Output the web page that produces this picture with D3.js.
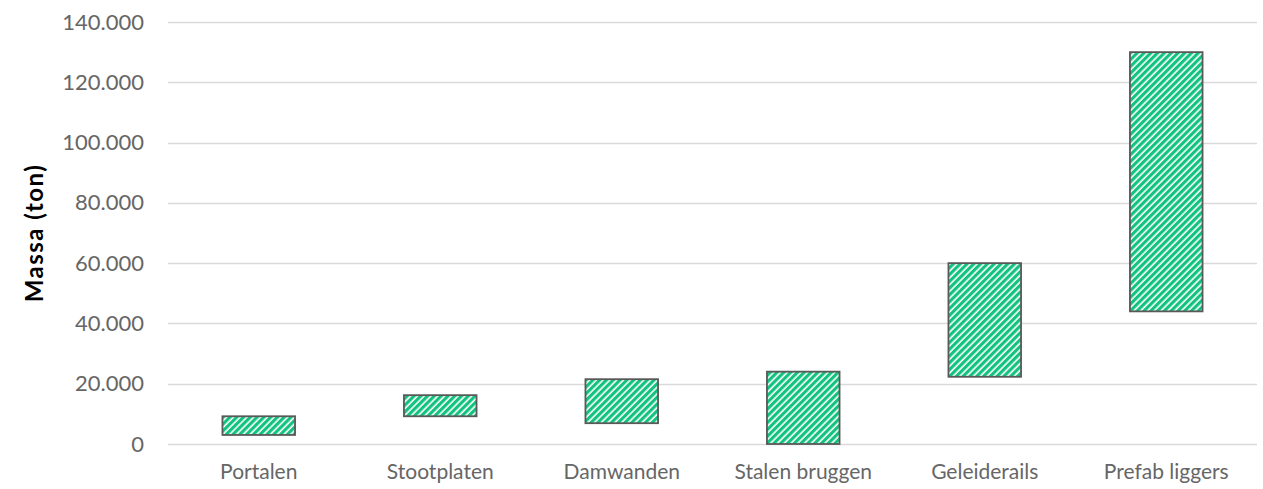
<!DOCTYPE html>
<html><head><meta charset="utf-8">
<script src="https://cdn.jsdelivr.net/npm/d3@7"></script>
<style>
body{margin:0;background:#fff;}
svg{display:block;font-family:Lato, "Open Sans", sans-serif;}
</style></head>
<body>
<svg id="chart" width="1263" height="489"></svg>
<script>
const categories = ["Portalen","Stootplaten","Damwanden","Stalen bruggen","Geleiderails","Prefab liggers"];
const lowValues  = [3000, 9200, 6900, 0, 22300, 44000];
const highValues = [9200, 16200, 21500, 24000, 60000, 130000];
const yTicks = [0,20000,40000,60000,80000,100000,120000,140000];

const svg = d3.select("#chart");
const margin = {left:168, right:6, top:22, bottom:45};
const W = 1263, H = 489;
const x = d3.scaleBand().domain(categories).range([margin.left, W - margin.right]).paddingInner(0.6).paddingOuter(0.3);
const y = d3.scaleLinear().domain([0,140000]).range([H - margin.bottom, margin.top]);

const defs = svg.append("defs");
const pat = defs.append("pattern").attr("id","hatch").attr("patternUnits","userSpaceOnUse")
  .attr("width",4.8).attr("height",4.8).attr("patternTransform","rotate(45)");
pat.append("rect").attr("width",4.8).attr("height",4.8).attr("fill","#fff");
pat.append("rect").attr("width",3.2).attr("height",4.8).attr("fill","#12C27F");

const fmt = v => v === 0 ? "0" : d3.format(",")(v).replace(/,/g,".");

// gridlines
svg.append("g").selectAll("line").data(yTicks).join("line")
  .attr("x1", margin.left).attr("x2", W - margin.right)
  .attr("y1", d => Math.round(y(d))+0.5).attr("y2", d => Math.round(y(d))+0.5)
  .attr("stroke","#d9d9d9").attr("stroke-width",1.5);

// y axis
const yAxis = svg.append("g").attr("transform",`translate(${margin.left},0)`)
  .call(d3.axisLeft(y).tickValues(yTicks).tickFormat(fmt).tickSize(0).tickPadding(24));
yAxis.select(".domain").remove();
yAxis.selectAll("text").attr("font-size",22).attr("fill","#666").attr("font-family","Lato, sans-serif");

// x axis
const xAxis = svg.append("g").attr("transform",`translate(0,${H - margin.bottom})`)
  .call(d3.axisBottom(x).tickSize(0).tickPadding(20));
xAxis.select(".domain").remove();
xAxis.selectAll("text").attr("font-size",21).attr("fill","#666").attr("font-family","Lato, sans-serif");

// bars
svg.append("g").selectAll("rect").data(categories).join("rect")
  .attr("x", d => x(d))
  .attr("width", x.bandwidth())
  .attr("y", (d,i) => y(highValues[i]))
  .attr("height", (d,i) => y(lowValues[i]) - y(highValues[i]))
  .attr("fill","url(#hatch)")
  .attr("stroke","#595959").attr("stroke-width",1.8);

// y label
svg.append("text").attr("transform",`translate(43,${(margin.top + H - margin.bottom)/2}) rotate(-90)`)
  .attr("text-anchor","middle").attr("font-size",24).attr("font-weight","bold").attr("fill","#000")
  .attr("letter-spacing",1.5)
  .text("Massa (ton)");
</script>
</body></html>
